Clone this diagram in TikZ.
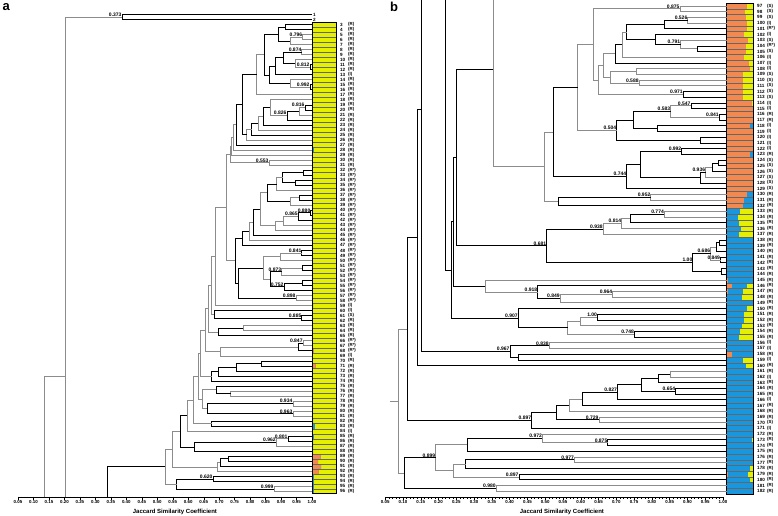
\documentclass[tikz,border=0pt]{standalone}
\usepackage{fontspec}
\setmainfont{Liberation Sans}
\definecolor{orng}{RGB}{242,137,80}
\definecolor{yelw}{RGB}{228,240,0}
\definecolor{blu}{RGB}{24,150,222}
\tikzset{
  lk/.style={black,line width=.65pt},
  lg/.style={black!45,line width=.65pt},
  tk/.style={black,line width=.4pt},
  rowsep/.style={black!60,line width=.25pt},
  barbox/.style={draw=black,line width=1pt},
  val/.style={font=\fontsize{5}{5}\selectfont\bfseries,anchor=south east,inner sep=.3pt},
  leafno/.style={font=\fontsize{4.6}{5}\selectfont\bfseries,anchor=west,inner sep=0pt},
  cat/.style={font=\fontsize{4.4}{5}\selectfont\bfseries,anchor=west,inner sep=0pt},
  ticklab/.style={font=\fontsize{4.4}{5}\selectfont\bfseries,anchor=north,inner sep=0pt},
  axtitle/.style={font=\fontsize{6}{7}\selectfont\bfseries,inner sep=0pt},
  panel/.style={font=\fontsize{13}{14}\selectfont\bfseries,anchor=north west,inner sep=0pt}
}
% merge of two clusters at similarity #3
\newcommand{\jlink}[5][lk]{%
  \path (#4) -- (#5) coordinate[pos=.5] (#2m);
  \coordinate (#2x) at (#3,0);
  \coordinate (#2) at (#2x |- #2m);
  \draw[#1] (#4) -- (#4 -| #2) -- (#5 -| #2) -- (#5);}
\newcommand{\jval}[2]{\node[val] (#1v) at (#1) {#2};}
\newcommand{\ticklist}{0.05,0.10,0.15,0.20,0.25,0.30,0.35,0.40,0.45,0.50,0.55,0.60,0.65,0.70,0.75,0.80,0.85,0.90,0.95,1.00}
\begin{document}
\begin{tikzpicture}[x=1pt,y=-1pt]
\useasboundingbox (0,0) rectangle (778,515);
\node[panel] (pa) at (2.5,3) {a};
\node[panel] (pb) at (390,1.5) {b};

% ---------------- panel a
\begin{scope}[shift={(2.525,9.45)},x=309.5pt,y=-5.02pt]
\foreach \k in {1,...,96} \coordinate (L\k) at (1,\k);
% bar
\fill[yelw] (1.001,2.5) rectangle (1.0775,96.5);
\foreach \k/\o/\b in {28/0/.05,30/0/.03,59/.03/0,68/.05/0,71/.15/0,75/0/.04,81/0/.04,82/.03/0,83/0/.12,85/.04/.02,86/.04/0,87/.04/0,88/.03/0,89/.35/0,90/.25/0,91/.38/0,92/.28/0,93/.02/.03,94/.02/.03,95/.02/.04,96/.02/.02}{
  \fill[orng] (1.001,\k-.5) rectangle ({1.001+\o*.0765},\k+.5);
  \fill[blu] ({1.001+\o*.0765},\k-.5) rectangle ({1.001+(\o+\b)*.0765},\k+.5);}
\foreach \k in {3,...,95} \draw[rowsep] (1.001,\k+.5) -- (1.0775,\k+.5);
\draw[barbox] (1.001,2.5) rectangle (1.0775,96.5);
% leaf labels
\foreach \k in {1,2} \node[leafno] (na\k) at (1.003,\k) {\k};
\foreach \k in {3,...,96} \node[leafno] (na\k) at (1.090,\k) {\k};
\foreach \lo/\hi/\c in {3/12/R,13/13/I,14/31/R,32/58/R*,59/60/I,61/61/S,62/65/R,66/68/R*,69/69/I,70/83/R,84/84/I,85/96/R}
  \foreach \k in {\lo,...,\hi} \node[cat] (ca\k) at (1.116,\k) {(\c)};
% tree
\jlink{a12}{0.386}{L1}{L2} \jval{a12}{0.373}
\jlink{a34}{0.913}{L3}{L4}
\jlink[lg]{a56}{0.970}{L5}{L6} \jval{a56}{0.796}
\jlink[lg]{a57}{0.929}{a56}{L7}
\jlink{a37}{0.890}{a34}{a57}
\jlink[lg]{a89}{0.967}{L8}{L9} \jval{a89}{0.874}
\jlink{a1112}{0.993}{L11}{L12} \jval{a1112}{0.812}
\jlink[lg]{a1012}{0.945}{L10}{a1112}
\jlink{a812}{0.906}{a89}{a1012}
\jlink{a813}{0.881}{a812}{L13}
\jlink{a1516}{0.993}{L15}{L16} \jval{a1516}{0.992}
\jlink[lg]{a1416}{0.929}{L14}{a1516}
\jlink{a816}{0.861}{a813}{a1416}
\jlink{a316}{0.845}{a37}{a816}
\jlink[lg]{a317}{0.821}{a316}{L17}
\jlink{a1920}{0.977}{L19}{L20} \jval{a1920}{0.816}
\jlink[lg]{a1921}{0.958}{a1920}{L21}
\jlink{a1922}{0.919}{a1921}{L22} \jval{a1922}{0.826}
\jlink[lg]{a1822}{0.864}{L18}{a1922}
\jlink{a1823}{0.842}{a1822}{L23}
\jlink[lg]{a1824}{0.825}{a1823}{L24}
\jlink{a1825}{0.805}{a1824}{L25}
\jlink[lg]{a1826}{0.789}{a1825}{L26}
\jlink{a326}{0.774}{a317}{a1826}
\jlink{a327}{0.754}{a326}{L27}
\jlink[lg]{a328}{0.745}{a327}{L28}
\jlink[lg]{a329}{0.740}{a328}{L29}
\jlink[lg]{a3031}{0.861}{L30}{L31} \jval{a3031}{0.553}
\jlink[lg]{a331}{0.735}{a329}{a3031}
\jlink{a3233}{0.971}{L32}{L33}
\jlink{a3435}{0.945}{L34}{L35}
\jlink{a3235}{0.905}{a3233}{a3435}
\jlink[lg]{a3236}{0.886}{a3235}{L36}
\jlink{a3738}{0.958}{L37}{L38}
\jlink[lg]{a3739}{0.929}{a3738}{L39}
\jlink{a3239}{0.854}{a3236}{a3739}
\jlink{a4041}{0.996}{L40}{L41} \jval{a4041}{0.880}
\jlink{a4042}{0.955}{a4041}{L42} \jval{a4042}{0.865}
\jlink[lg]{a4043}{0.906}{a4042}{L43}
\jlink[lg]{a4044}{0.881}{a4043}{L44}
\jlink[lg]{a3244}{0.832}{a3239}{a4044}
\jlink{a3245}{0.809}{a3244}{L45}
\jlink[lg]{a3246}{0.796}{a3245}{L46}
\jlink{a3247}{0.774}{a3246}{L47}
\jlink{a4849}{0.967}{L48}{L49} \jval{a4849}{0.841}
\jlink[lg]{a4850}{0.897}{a4849}{L50}
\jlink{a5152}{0.968}{L51}{L52}
\jlink[lg]{a5153}{0.902}{a5152}{L53} \jval{a5153}{0.873}
\jlink{a5455}{0.970}{L54}{L55}
\jlink{a5456}{0.909}{a5455}{L56} \jval{a5456}{0.752}
\jlink{a5156}{0.864}{a5153}{a5456}
\jlink[lg]{a4856}{0.842}{a4850}{a5156}
\jlink[lg]{a5758}{0.948}{L57}{L58} \jval{a5758}{0.898}
\jlink{a4858}{0.761}{a4856}{a5758}
\jlink{a3258}{0.751}{a3247}{a4858}
\jlink[lg]{a358}{0.724}{a331}{a3258}
\jlink[lg]{a359}{0.687}{a358}{L59}
\jlink{a6162}{0.967}{L61}{L62} \jval{a6162}{0.885}
\jlink{a6062}{0.683}{L60}{a6162}
\jlink[lg]{a362}{0.674}{a359}{a6062}
\jlink[lg]{a6364}{0.777}{L63}{L64}
\jlink{a6365}{0.696}{a6364}{L65}
\jlink[lg]{a365}{0.664}{a362}{a6365}
\jlink[lg]{a6667}{0.971}{L66}{L67} \jval{a6667}{0.847}
\jlink{a6668}{0.955}{a6667}{L68}
\jlink[lg]{a6669}{0.703}{a6668}{L69}
\jlink[lg]{a369}{0.654}{a365}{a6669}
\jlink{a7071}{0.837}{L70}{L71}
\jlink{a7072}{0.757}{a7071}{L72}
\jlink{a7073}{0.696}{a7072}{L73}
\jlink{a7074}{0.676}{a7073}{L74}
\jlink[lg]{a374}{0.638}{a369}{a7074}
\jlink[lg]{a7677}{0.737}{L76}{L77}
\jlink{a7577}{0.690}{L75}{a7677}
\jlink[lg]{a7879}{0.938}{L78}{L79} \jval{a7879}{0.934}
\jlink[lg]{a8081}{0.938}{L80}{L81} \jval{a8081}{0.963}
\jlink{a7881}{0.661}{a7879}{a8081}
\jlink[lg]{a7581}{0.645}{a7577}{a7881}
\jlink[lg]{a381}{0.632}{a374}{a7581}
\jlink{a8283}{0.676}{L82}{L83}
\jlink[lg]{a383}{0.615}{a381}{a8283}
\jlink[lg]{a384}{0.596}{a383}{L84}
\jlink{a8586}{0.922}{L85}{L86} \jval{a8586}{0.801}
\jlink[lg]{a8587}{0.884}{a8586}{L87} \jval{a8587}{0.962}
\jlink{a8588}{0.619}{a8587}{L88}
\jlink{a388}{0.573}{a384}{a8588}
\jlink{a8990}{0.731}{L89}{L90}
\jlink{a8991}{0.703}{a8990}{L91}
\jlink[lg]{a8992}{0.693}{a8991}{L92}
\jlink[lg]{a392}{0.548}{a388}{a8992}
\jlink{a9394}{0.680}{L93}{L94} \jval{a9394}{0.620}
\jlink[lg]{a9596}{0.877}{L95}{L96} \jval{a9596}{0.999}
\jlink{a9396}{0.563}{a9394}{a9596}
\jlink[lg]{a396}{0.525}{a392}{a9396}
% links running on into panel b
\coordinate (abot1) at (0.202,97.1);
\coordinate (abot2) at (0.136,97.1);
\coordinate (abot3) at (0.339,97.1);
\jlink[lg]{aR1}{0.202}{a12}{abot1}
\jlink{aR3}{0.339}{a396}{abot3}
\coordinate (aj) at (0.202,73);
\draw[lg] (aj) -| (abot2);
% axis
\draw[tk] (0.05,97.1) -- (1,97.1);
\foreach \t in {5,...,100} \draw[tk] (\t/100,97.1) -- ++(0,.3);
\foreach \v [count=\i] in \ticklist {\draw[tk] (\v,97.1) -- ++(0,.55);
  \node[ticklab] (ta\i) at (\v,97.75) {\v};}
\node[axtitle] (xa) at (0.557,100.1) {Jaccard Similarity Coefficient};
\end{scope}

% ---------------- panel b
\begin{scope}[shift={(367.4,-547.9)},x=355.6pt,y=-5.709pt]
\clip (0,95.9) rectangle (1.2,190);
\foreach \k in {97,...,182} \coordinate (L\k) at (1.011,\k);
% bar
\fill[blu] (1.0112,96.5) rectangle (1.0858,182.5);
\foreach \k/\o/\b in {97/.74/0,98/.68/0,99/.70/0,100/.74/0,101/.76/0,102/.63/0,103/.78/0,104/.72/0,105/.70/0,106/.65/0,107/.82/0,108/.88/0,109/.60/0,110/.60/0,111/.62/0,112/.62/0,113/.62/0,114/.95/0,115/.97/0,116/.98/0,117/.98/0,118/.88/.10,119/.99/0,120/.98/0,121/.98/0,122/.97/.01,123/.88/.10,124/1/0,125/1/0,126/1/0,127/1/0,128/1/0,129/1/0,130/.74/.26,131/.65/.35,132/.62/.38,133/0/.49,134/0/.43,135/0/.45,136/0/.53,137/0/.45,145/.02/.98,146/.2/.57,147/.05/.55,148/0/.55,150/0/.75,151/0/.65,152/0/.63,153/0/.55,154/0/.5,155/0/.45,158/.2/.8,159/0/.62,160/0/.7,173/0/.93,178/0/.88,179/.04/.76,180/0/.85}{
  \fill[orng] (1.0112,\k-.5) rectangle ({1.0112+\o*.0746},\k+.5);
  \fill[yelw] ({1.0112+(\o+\b)*.0746},\k-.5) rectangle (1.0858,\k+.5);}
\foreach \k in {97,...,181} \draw[rowsep] (1.0112,\k+.5) -- (1.0858,\k+.5);
\draw[barbox] (1.0112,96.5) rectangle (1.0858,182.5);
% leaf labels
\foreach \k in {97,...,182} \node[leafno] (na\k) at (1.0956,\k) {\k};
\foreach \lo/\hi/\c in {97/99/S,100/100/I,101/101/R*,102/102/I,103/103/S,104/104/R*,105/105/S,106/108/I,109/113/S,114/115/I,116/117/R,118/122/I,123/123/R,124/129/S,130/155/R,156/157/I,158/158/R,159/159/I,160/161/R,162/162/I,163/165/R,166/166/I,167/169/R,170/170/S,171/171/I,172/182/R}
  \foreach \k in {\lo,...,\hi} \node[cat] (ca\k) at (1.1237,\k) {(\c)};
% tree
\jlink[lg]{b9798}{0.879}{L97}{L98} \jval{b9798}{0.875}
\jlink[lg]{b99100}{0.901}{L99}{L100} \jval{b99100}{0.526}
\jlink{b99101}{0.834}{b99100}{L101}
\jlink{b104105}{0.927}{L104}{L105}
\jlink[lg]{b103105}{0.881}{L103}{b104105} \jval{b103105}{0.791}
\jlink{b102105}{0.809}{L102}{b103105}
\jlink{b99105}{0.729}{b99101}{b102105}
\jlink[lg]{b99106}{0.716}{b99105}{L106}
\jlink{b99107}{0.696}{b99106}{L107}
\jlink[lg]{b108109}{0.757}{L108}{L109}
\jlink[lg]{b110111}{0.764}{L110}{L111} \jval{b110111}{0.588}
\jlink[lg]{b108111}{0.682}{b108109}{b110111}
\jlink[lg]{b99111}{0.663}{b99107}{b108111}
\jlink{b112113}{0.888}{L112}{L113} \jval{b112113}{0.971}
\jlink[lg]{b99113}{0.648}{b99111}{b112113}
\jlink[lg]{b97113}{0.634}{b9798}{b99113}
\jlink{b114115}{0.910}{L114}{L115} \jval{b114115}{0.547}
\jlink{b116117}{0.989}{L116}{L117} \jval{b116117}{0.841}
\jlink[lg]{b114117}{0.853}{b114115}{b116117} \jval{b114117}{0.583}
\jlink{b118119}{0.814}{L118}{L119}
\jlink{b114119}{0.747}{b114117}{b118119}
\jlink{b120121}{0.937}{L120}{L121}
\jlink{b114121}{0.701}{b114119}{b120121} \jval{b114121}{0.504}
\jlink[lg]{b97121}{0.591}{b97113}{b114121}
\jlink{b122123}{0.884}{L122}{L123} \jval{b122123}{0.992}
\jlink{b124125}{0.986}{L124}{L125}
\jlink{b124126}{0.969}{b124125}{L126}
\jlink[lg]{b124127}{0.951}{b124126}{L127} \jval{b124127}{0.936}
\jlink{b124128}{0.935}{b124127}{L128}
\jlink{b122128}{0.767}{b122123}{b124128}
\jlink{b122129}{0.729}{b122128}{L129} \jval{b122129}{0.744}
\jlink{b97129}{0.522}{b97121}{b122129}
\jlink[lg]{b130131}{0.797}{L130}{L131} \jval{b130131}{0.952}
\jlink{b130132}{0.536}{b130131}{L132}
\jlink[lg]{b97132}{0.497}{b97129}{b130132}
\coordinate (bt3) at (0.354,91.1);
\jlink[lg]{bP3}{0.354}{bt3}{b97132}
\jlink[lg]{b133134}{0.835}{L133}{L134} \jval{b133134}{0.774}
\jlink{b133135}{0.738}{b133134}{L135}
\jlink[lg]{b133136}{0.715}{b133135}{L136} \jval{b133136}{0.814}
\jlink[lg]{b133137}{0.663}{b133136}{L137} \jval{b133137}{0.938}
\jlink{b138139}{0.989}{L138}{L139}
\jlink{b138140}{0.980}{b138139}{L140}
\jlink{b141142}{0.993}{L141}{L142} \jval{b141142}{0.849}
\jlink[lg]{b138142}{0.965}{b138140}{b141142} \jval{b138142}{0.686}
\jlink{b143144}{0.995}{L143}{L144}
\jlink{b138144}{0.915}{b138142}{b143144} \jval{b138144}{1.00}
\jlink{b133144}{0.504}{b133137}{b138144} \jval{b133144}{0.681}
\jlink{bN1}{0.251}{bP3}{b133144}
\jlink[lg]{b147148}{0.690}{L147}{L148} \jval{b147148}{0.964}
\jlink[lg]{b147149}{0.542}{b147148}{L149} \jval{b147149}{0.849}
\jlink{b146149}{0.479}{L146}{b147149} \jval{b146149}{0.918}
\jlink[lg]{b145149}{0.331}{L145}{b146149}
\jlink{bN2a}{0.242}{bN1}{b145149}
\jlink{b151152}{0.647}{L151}{L152} \jval{b151152}{1.00}
\jlink[lg]{b151153}{0.598}{b151152}{L153}
\jlink{b154155}{0.751}{L154}{L155} \jval{b154155}{0.748}
\jlink[lg]{b151155}{0.563}{b151153}{b154155}
\jlink{b150155}{0.424}{L150}{b151155} \jval{b150155}{0.907}
\jlink{bN2}{0.237}{bN2a}{b150155}
\coordinate (bt2) at (0.218,43.4);
\jlink{bR1}{0.218}{bt2}{bN2}
\jlink[lg]{b156157}{0.511}{L156}{L157} \jval{b156157}{0.838}
\jlink{b158159}{0.424}{L158}{L159}
\jlink{b156159}{0.401}{b156157}{b158159} \jval{b156159}{0.967}
\coordinate (bt1) at (0.151,72.85);
\jlink{bQ1}{0.151}{bt1}{b156159}
\jlink{bQ2}{0.139}{bQ1}{L160}
\jlink[lg]{b161162}{0.851}{L161}{L162}
\jlink{b161163}{0.818}{b161162}{L163}
\jlink{b164165}{0.867}{L164}{L165} \jval{b164165}{0.654}
\jlink{b161165}{0.769}{b161163}{b164165}
\jlink{b161166}{0.703}{b161165}{L166} \jval{b161166}{0.827}
\jlink{b161167}{0.603}{b161166}{L167}
\jlink[lg]{b161168}{0.568}{b161167}{L168}
\jlink[lg]{b169170}{0.651}{L169}{L170} \jval{b169170}{0.729}
\jlink{b161170}{0.530}{b161168}{b169170}
\jlink{b161171}{0.462}{b161170}{L171} \jval{b161171}{0.897}
\jlink{bQ3}{0.112}{bQ2}{b161171}
\jlink{b173174}{0.676}{L173}{L174} \jval{b173174}{0.875}
\jlink[lg]{b172174}{0.492}{L172}{b173174} \jval{b172174}{0.972}
\jlink{b172175}{0.281}{b172174}{L175}
\jlink[lg]{b176177}{0.582}{L176}{L177} \jval{b176177}{0.977}
\jlink{b176178}{0.276}{b176177}{L178}
\jlink{b179180}{0.426}{L179}{L180} \jval{b179180}{0.897}
\jlink[lg]{b176180}{0.242}{b176178}{b179180}
\jlink[lg]{b172180}{0.192}{b172175}{b176180} \jval{b172180}{0.899}
\jlink[lg]{b181182}{0.362}{L181}{L182} \jval{b181182}{0.980}
\jlink{b172182}{0.103}{b172180}{b181182}
\jlink[lg]{bQ4}{0.087}{bQ3}{b172182}
\coordinate (broot) at (0.064,0);
\draw[lg] (bQ4) -- (bQ4 -| broot);
% axis
\draw[tk] (0.05,183.03) -- (1,183.03);
\foreach \t in {5,...,100} \draw[tk] (\t/100,183.03) -- ++(0,.3);
\foreach \v [count=\i] in \ticklist {\draw[tk] (\v,183.03) -- ++(0,.55);
  \node[ticklab] (tb\i) at (\v,183.6) {\v};}
\node[axtitle] (xb) at (0.547,185.65) {Jaccard Similarity Coefficient};
\end{scope}
\end{tikzpicture}
\end{document}
